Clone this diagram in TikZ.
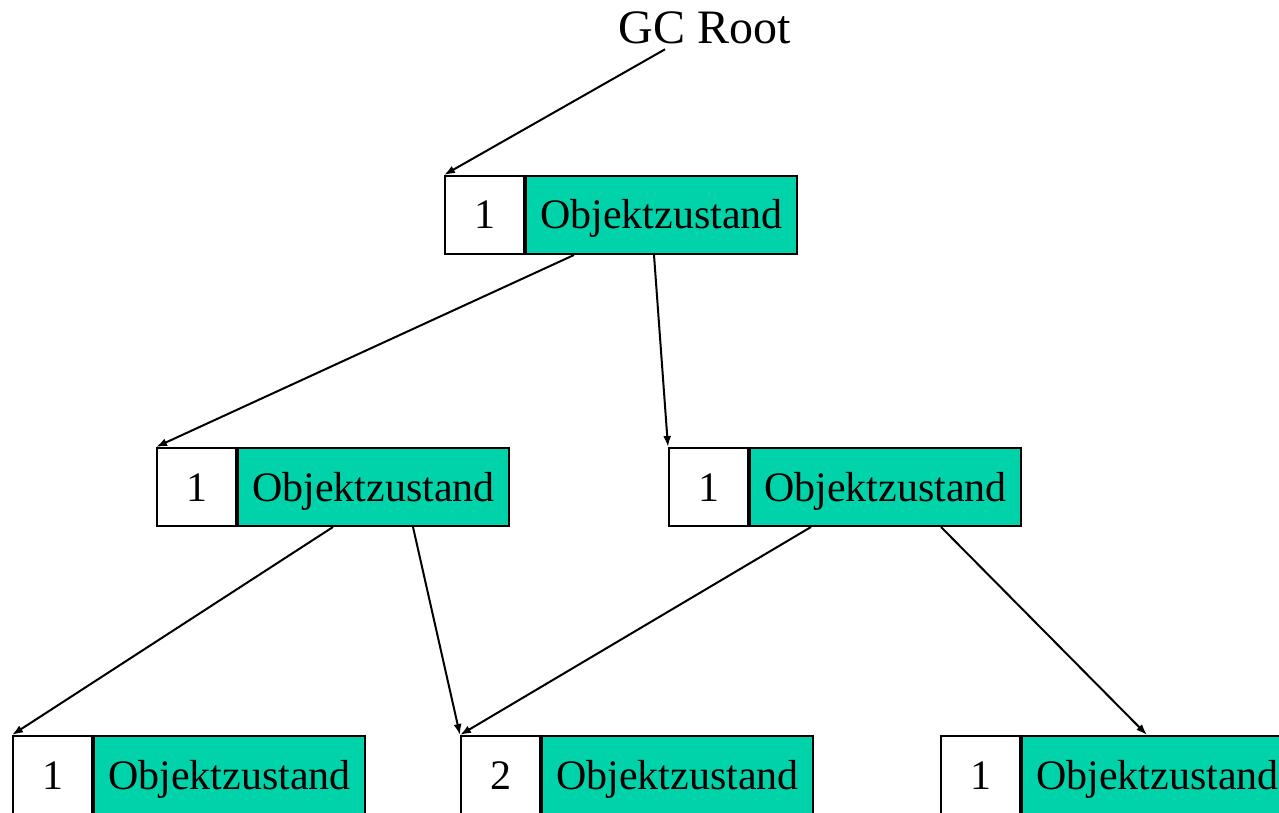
\documentclass[tikz,border=0pt]{standalone}
\usepackage{fontspec}
\setmainfont{Liberation Serif}
\usetikzlibrary{arrows.meta}
\definecolor{zustandgruen}{RGB}{0,211,170}
\begin{document}
\begin{tikzpicture}[x=1pt,y=-1pt,
    zelle/.style={draw,line width=2pt,inner sep=0pt,minimum height=78pt,
      text height=28pt,text depth=0pt,font=\fontsize{42}{50}\selectfont},
    zaehler/.style={zelle,minimum width=79pt,fill=white},
    zustand/.style={zelle,minimum width=271pt,fill=zustandgruen},
    zeiger/.style={-{Latex[length=11pt,width=8pt]},line width=2pt}]
\useasboundingbox (0,0) rectangle (1279,813);
\node[inner sep=0pt,font=\fontsize{48}{56}\selectfont] (gc) at (705,28) {GC Root};
% Objekte: Name/x/y/Referenzzaehler
\foreach \n/\x/\y/\k in {1/444/175/1, 2/156/447/1, 3/668/447/1,
                         4/12/735/1, 5/460/735/2, 6/940/735/1} {
  \node[zaehler,anchor=north west] (c\n) at (\x,\y) {\k};
  \node[zustand,anchor=north west] (s\n) at (c\n.north east) {Objektzustand};
}
\draw[zeiger] ([xshift=-40pt,yshift=-5pt]gc.south) -- (c1.north west);
\draw[zeiger] ([xshift=49pt]s1.south west) -- (c2.north west);
\draw[zeiger] ([xshift=129pt]s1.south west) -- (c3.north west);
\draw[zeiger] ([xshift=96pt]s2.south west) -- (c4.north west);
\draw[zeiger] ([xshift=176pt]s2.south west) -- (c5.north west);
\draw[zeiger] ([xshift=62pt]s3.south west) -- (c5.north west);
\draw[zeiger] ([xshift=192pt]s3.south west) -- ([xshift=126pt]s6.north west);
\end{tikzpicture}
\end{document}
